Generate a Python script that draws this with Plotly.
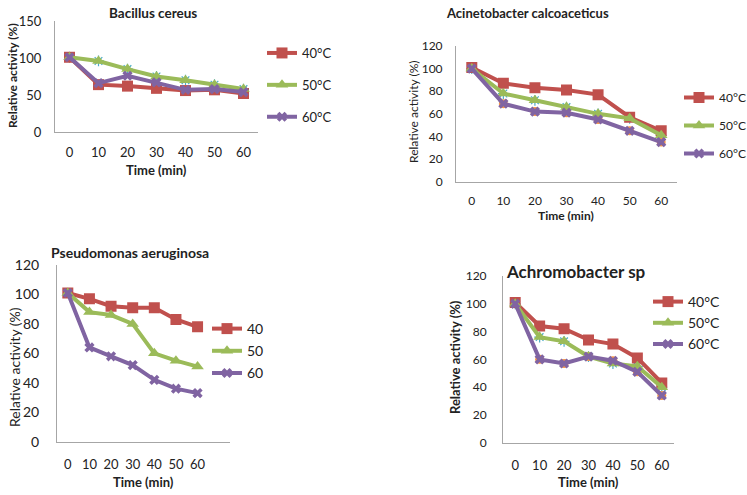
import plotly.graph_objects as go

W, H = 747, 495

time_labels = ["0", "10", "20", "30", "40", "50", "60"]

bacillus_40 = [101, 64, 62, 59, 56, 57, 52]
bacillus_50 = [101, 96, 85, 75, 70, 64, 58]
bacillus_60 = [101, 66, 76, 67, 57, 58, 54]

acineto_40 = [101, 87, 83, 81, 77, 57, 45]
acineto_50 = [100, 78, 72, 66, 60, 56, 41]
acineto_60 = [100, 69, 62, 61, 55, 45, 35]

pseudo_40 = [101, 97, 92, 91, 91, 83, 78]
pseudo_50 = [101, 88, 86, 80, 60, 55, 51]
pseudo_60 = [101, 64, 58, 52, 42, 36, 33]

achromo_40 = [101, 84, 82, 74, 71, 61, 43]
achromo_50 = [100, 76, 73, 62, 57, 55, 40]
achromo_60 = [100, 60, 57, 62, 59, 51, 34]

legend_c = ["40°C", "50°C", "60°C"]
legend_plain = ["40", "50", "60"]

RED, GREEN, PURPLE = "#C0504D", "#9BBB59", "#8064A2"
ORANGE, AQUA = "#F79646", "#4BACC6"
FONT = "Lato, Liberation Sans, sans-serif"
AXC = "#A6A6A6"

fig = go.Figure()

def px_x(v):
    return v / W

def px_y(v):
    return 1 - v / H

panels = [
    dict(ax="", data=(bacillus_40, bacillus_50, bacillus_60), labels=legend_c, leg="legend", aqua=True, orange=False),
    dict(ax="2", data=(acineto_40, acineto_50, acineto_60), labels=legend_c, leg="legend2", aqua=True, orange=True),
    dict(ax="3", data=(pseudo_40, pseudo_50, pseudo_60), labels=legend_plain, leg="legend3", aqua=False, orange=False),
    dict(ax="4", data=(achromo_40, achromo_50, achromo_60), labels=legend_c, leg="legend4", aqua=True, orange=True),
]

for p in panels:
    xa, ya = "x" + p["ax"], "y" + p["ax"]
    d40, d50, d60 = p["data"]
    if p["aqua"]:
        fig.add_trace(go.Scatter(x=time_labels, y=d50, xaxis=xa, yaxis=ya, mode="markers",
                                 marker=dict(symbol="asterisk-open", size=9, color=AQUA,
                                             line=dict(color=AQUA, width=1.2)),
                                 showlegend=False, hoverinfo="skip"))
    if p["orange"]:
        fig.add_trace(go.Scatter(x=time_labels, y=d60, xaxis=xa, yaxis=ya, mode="markers",
                                 marker=dict(symbol="circle", size=9, color=ORANGE),
                                 showlegend=False, hoverinfo="skip"))
    specs = [(d40, RED, "square", 11), (d50, GREEN, "triangle-up", 11), (d60, PURPLE, "x", 9)]
    for (vals, col, sym, sz), lab in zip(specs, p["labels"]):
        fig.add_trace(go.Scatter(x=time_labels, y=vals, xaxis=xa, yaxis=ya, mode="lines+markers",
                                 name=lab, legend=p["leg"], legendgroup=p["leg"] + lab,
                                 line=dict(color=col, width=4),
                                 marker=dict(symbol=sym, size=sz, color=col)))

geo = {
    "": dict(x0=55, x1=258, y0=132, y1=21, ymax=150, dtick=50, tfs=13, xfs=13, xr=[-0.5, 6.5], ystd=10, xstd=8),
    "2": dict(x0=456, x1=677, y0=181.7, y1=46, ymax=120, dtick=20, tfs=12, xfs=12, xr=[-0.5, 6.5], ystd=10, xstd=8),
    "3": dict(x0=57, x1=230, y0=441.7, y1=265, ymax=120, dtick=20, tfs=14, xfs=13, xr=[-0.5, 7.5], ystd=14, xstd=11),
    "4": dict(x0=503, x1=674, y0=442.7, y1=276, ymax=120, dtick=20, tfs=12, xfs=13, xr=[-0.5, 6.5], ystd=13, xstd=11),
}

layout = {}
for k, g in geo.items():
    layout["xaxis" + k] = dict(domain=[px_x(g["x0"]), px_x(g["x1"])], anchor="y" + k, type="category",
                               range=g["xr"], showgrid=False, zeroline=False, showline=True, automargin=False,
                               linecolor=AXC, linewidth=1, ticks="", ticklabelstandoff=g["xstd"],
                               tickfont=dict(family=FONT, size=g["xfs"], color="#222"), fixedrange=True)
    layout["yaxis" + k] = dict(domain=[px_y(g["y0"]), px_y(g["y1"])], anchor="x" + k, automargin=False,
                               range=[0, g["ymax"]], dtick=g["dtick"], showgrid=False, zeroline=False,
                               showline=True, linecolor=AXC, linewidth=1, ticks="", ticklabelstandoff=g["ystd"],
                               tickfont=dict(family=FONT, size=g["tfs"], color="#222"), fixedrange=True)

def leg(x, y, size, gap):
    return dict(x=px_x(x), y=px_y(y), xanchor="left", yanchor="top", bgcolor="rgba(0,0,0,0)",
                font=dict(family=FONT, size=size, color="#222"), itemwidth=30,
                tracegroupgap=gap, itemsizing="trace")

layout["legend"] = leg(262, 38, 13, 12)
layout["legend2"] = leg(679, 83, 12, 9)
layout["legend3"] = leg(207, 313, 14, 1)
layout["legend4"] = leg(648, 286, 14, 0)

ann = []
def txt(t, x, y, size, bold=True, xanchor="center", angle=0):
    ann.append(dict(text=("<b>%s</b>" % t) if bold else t, x=px_x(x), y=px_y(y), xref="paper", yref="paper",
                    showarrow=False, xanchor=xanchor, yanchor="middle", textangle=angle,
                    font=dict(family=FONT, size=size, color="#222")))

txt("Bacillus cereus", 153, 13, 13.5)
txt("Acinetobacter calcoaceticus", 527, 13, 13)
txt("Pseudomonas aeruginosa", 49, 253, 14, xanchor="left")
txt("Achromobacter sp", 504, 271, 17, xanchor="left")

txt("Time (min)", 156, 170, 13)
txt("Time (min)", 566, 215, 12)
txt("Time (min)", 143, 482, 13)
txt("Time (min)", 588, 482, 13)

txt("Relative activity (%)", 12, 76, 12, angle=-90)
txt("Relative activity (%)", 413, 112, 12, bold=False, angle=-90)
txt("Relative activity (%)", 14, 367, 14, bold=False, angle=-90)
txt("Relative activity (%)", 455, 357, 13, angle=-90)

fig.update_layout(width=W, height=H, margin=dict(l=0, r=0, t=0, b=0, autoexpand=False),
                  paper_bgcolor="white", plot_bgcolor="white", annotations=ann, **layout)

fig.write_html("out.html", config={"displayModeBar": False},
               post_script="document.body.style.margin='0';")
